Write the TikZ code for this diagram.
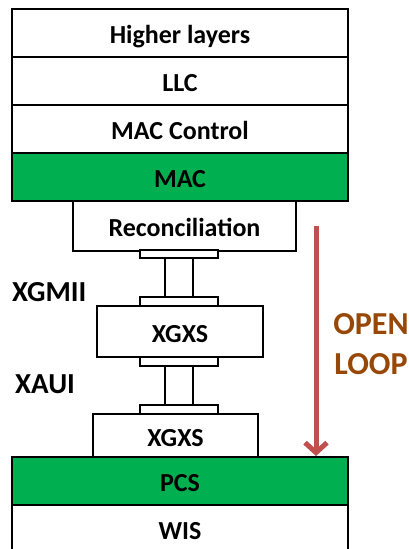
\documentclass[tikz,border=0pt]{standalone}
\usepackage{fontspec}
\setmainfont{Carlito}
\usepackage{tikz}
\usepackage{xcolor}
\usetikzlibrary{
    arrows.meta,
    positioning
}
\definecolor{layergreen}{RGB}{0,176,80}
\definecolor{looparrow}{RGB}{192,80,77}
\definecolor{looptext}{RGB}{152,72,6}

\begin{document}
\begin{tikzpicture}[
        x=1pt, y=-1pt,
        layer/.style={
            draw,
            line width=2pt,
            minimum width=336pt,
            minimum height=48pt,
            inner sep=0pt,
            text height=21.5pt,
            text depth=0pt,
            font=\fontsize{26}{30}\selectfont\bfseries
        },
        sublayer/.style={
            layer,
            minimum width=#1
        },
        pad/.style={
            draw,
            line width=2pt,
            fill=white,
            minimum width=78pt,
            minimum height=8pt,
            inner sep=0pt
        },
        iface/.style={
            anchor=west,
            inner sep=0pt,
            font=\fontsize{29}{33}\selectfont\bfseries
        }
    ]
    \useasboundingbox (0,0) rectangle (409,549);

    % the layer stack
    \node[layer] (higher) at (180,33) {Higher layers};
    \node[layer] (llc) at (180,81) {LLC};
    \node[layer] (macctl) at (180,129) {MAC Control};
    \node[layer, fill=layergreen] (mac) at (180,177) {MAC};
    \node[sublayer=223pt, minimum height=50pt] (recon) at (184.5,226) {Reconciliation};
    \node[sublayer=166pt, minimum height=51pt] (xgxsup) at (180,331.5) {XGXS};
    \node[sublayer=165pt, minimum height=43pt] (xgxslow) at (175.5,435.5) {XGXS};
    \node[layer, fill=layergreen] (pcs) at (180,481) {PCS};
    \node[layer] (wis) at (180,529) {WIS};

    % interfaces
    \node[pad] (padA) at (179,254) {};
    \node[pad, minimum height=9pt] (padB) at (179,301.5) {};
    \node[pad, minimum height=9pt] (padC) at (179,361.5) {};
    \node[pad, minimum height=9pt] (padD) at (179,409.5) {};
    \draw[line width=2pt] ([xshift=-14pt]padA.south) -- ([xshift=-14pt]padB.north);
    \draw[line width=2pt] ([xshift=14pt]padA.south) -- ([xshift=14pt]padB.north);
    \draw[line width=2pt] ([xshift=-14pt]padC.south) -- ([xshift=-14pt]padD.north);
    \draw[line width=2pt] ([xshift=14pt]padC.south) -- ([xshift=14pt]padD.north);
    \node[iface] (xgmii) at (12,292) {XGMII};
    \node[iface] (xaui) at (15,384) {XAUI};

    % open loop
    \coordinate (loopstart) at (316,226);
    \draw[
        looparrow,
        line width=5pt,
        -{Straight Barb[length=10pt,width=22pt]}
    ] (loopstart) -- (loopstart |- pcs.north);
    \node[
        text=looptext,
        align=center,
        inner sep=0pt,
        font=\fontsize{32}{39.5}\selectfont\bfseries
    ] (openloop) at (371,344) {OPEN\\LOOP};
\end{tikzpicture}
\end{document}
